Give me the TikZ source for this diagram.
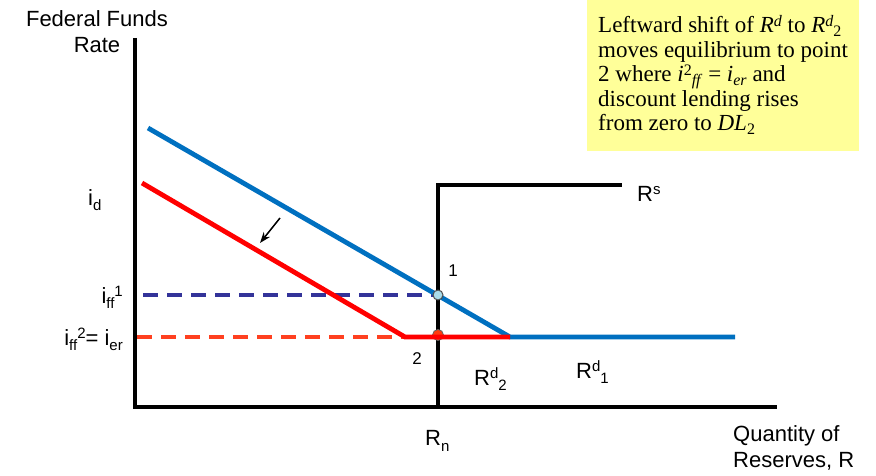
\documentclass[tikz,border=0pt]{standalone}
\usepackage{fontspec}
\usetikzlibrary{arrows.meta}
\setmainfont{Liberation Sans}
\newfontfamily\boxfont{Liberation Serif}
\definecolor{rdblue}{HTML}{0070C0}
\definecolor{rdred}{HTML}{FF0000}
\definecolor{dashblue}{HTML}{333399}
\definecolor{dashred}{HTML}{FF4020}
\definecolor{notey}{HTML}{FFFF99}
\definecolor{pt1}{HTML}{A9DCEA}
\definecolor{pt2}{HTML}{FF3B10}
\newcommand{\mysb}[1]{\raisebox{-0.45ex}{\fontsize{15}{15}\selectfont #1}}
\newcommand{\mysp}[1]{\raisebox{0.6ex}{\fontsize{15}{15}\selectfont #1}}
\newcommand{\bsb}[1]{\raisebox{-0.4ex}{\fontsize{16}{16}\selectfont #1}}
\newcommand{\bsp}[1]{\raisebox{0.6ex}{\fontsize{16}{16}\selectfont #1}}
\begin{document}
\begin{tikzpicture}[x=1pt,y=-1pt,
  lbl/.style={inner sep=0pt,font=\fontsize{22}{26}\selectfont},
  small/.style={inner sep=0pt,font=\fontsize{17}{18}\selectfont},
  axis/.style={line width=3.4pt},
  curve/.style={line width=4.8pt},
  dline/.style={line width=3.2pt,dash pattern=on 15pt off 9pt}]
\useasboundingbox (0,0) rectangle (876,476);
% note box
\node[fill=notey,minimum width=272pt,minimum height=151pt,inner sep=0pt,anchor=north west] (note) at (587,0) {};
\node[anchor=north west,inner sep=0pt,align=left,font=\boxfont\fontsize{23}{24.5}\selectfont] (notetext) at (598,15)
 {Leftward shift of \textit{R}\bsp{\textit{d}} to \textit{R}\bsp{\textit{d}}\bsb{2}\\
  moves equilibrium to point\\
  2 where \textit{i}\bsp{2}\bsb{\textit{ff}} = \textit{i}\bsb{\textit{er}} and\\
  discount lending rises\\
  from zero to \textit{DL}\bsb{2}};
% coordinates
\coordinate (ytop) at (135,38);
\coordinate (origin) at (135,407);
\coordinate (xend) at (777,407);
\coordinate (rsbot) at (438,407);
\coordinate (rscorner) at (438,185);
\coordinate (rsend) at (622,185);
\coordinate (b0) at (148,128);
\coordinate (kink) at (510,337);
\coordinate (b2) at (735,337);
\coordinate (r0) at (142,183);
\coordinate (rk) at (405,337);
\coordinate (d1s) at (143,295);
\coordinate (d2s) at (137,337);
\coordinate (a1) at (280,218);
\coordinate (a2) at (260,243);
% axes
\draw[axis] (ytop) -- (origin) -- (xend);
\draw[axis] (rsbot) -- (rscorner) -- (rsend);
% points and dashed lines
\node[circle,fill=pt2,draw=black!60,line width=0.8pt,minimum size=11pt,inner sep=0pt] (p2) at (438,335) {};
\draw[dline,dashblue] (d1s) -- (438,295);
\draw[dline,dashred] (d2s) -- (rk);
% curves
\draw[curve,rdblue] (b0) -- (kink) -- (b2);
\draw[curve,rdred] (r0) -- (rk) -- (kink);
\node[circle,draw=black!70,fill=pt1,line width=1pt,minimum size=10pt,inner sep=0pt] (p1) at (438,295) {};
\draw[line width=1.5pt,-{Stealth[length=11pt,width=8pt]}] (a1) -- (a2);
% labels
\node[lbl,align=center] (ylab) at (97,32) {Federal Funds\\Rate};
\node[lbl,align=left,anchor=north west] (xlab) at (733,425) {Quantity of\\Reserves, R};
\node[lbl,anchor=west] (id) at (88,200) {i\mysb{d}};
\node[lbl,anchor=east] (iff1) at (123,297) {i\mysb{ff}\mysp{1}};
\node[lbl,anchor=east] (iff2) at (123,339) {i\mysb{ff}\mysp{2}= i\mysb{er}};
\node[small] (l1) at (453,271) {1};
\node[small] (l2) at (417,359) {2};
\node[lbl,anchor=west] (rd2) at (474,379) {R\mysp{d}\mysb{2}};
\node[lbl,anchor=west] (rd1) at (576,372) {R\mysp{d}\mysb{1}};
\node[lbl,anchor=west] (rs) at (637,194) {R\mysp{s}};
\node[lbl,anchor=west] (rn) at (425,441) {R\mysb{n}};
\end{tikzpicture}
\end{document}
